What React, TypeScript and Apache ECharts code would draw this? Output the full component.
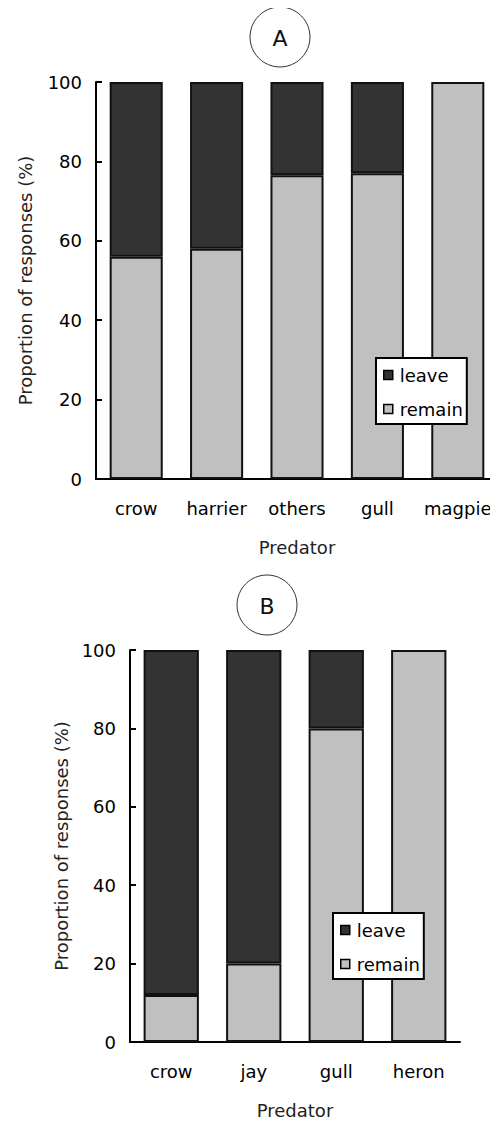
import React, { useEffect, useRef } from "react";
import * as echarts from "echarts";

const catsA = ["crow", "harrier", "others", "gull", "magpie"];
const remainA = [56, 58, 76.5, 77, 100];
const leaveA = [44, 42, 23.5, 23, 0];

const catsB = ["crow", "jay", "gull", "heron"];
const remainB = [12, 20, 80, 100];
const leaveB = [88, 80, 20, 0];

const yTicks = [0, 20, 40, 60, 80, 100];
const seriesNames = ["leave", "remain"];

const FONT = "'DejaVu Sans', Verdana, sans-serif";
const DARK = "#333333";
const LIGHT = "#c0c0c0";

const nz = (arr: number[]) => arr.map((v) => (v === 0 ? "-" : v));

export default function App() {
  const ref = useRef<HTMLDivElement>(null);
  useEffect(() => {
    const chart = echarts.init(ref.current!, null, { renderer: "svg" });
    const yAxis = (gridIndex: number, gap: number) => ({
      type: "value",
      gridIndex,
      min: yTicks[0],
      max: yTicks[yTicks.length - 1],
      interval: 20,
      name: "Proportion of responses (%)",
      nameLocation: "middle",
      nameGap: gap,
      nameTextStyle: { fontSize: 18, color: "#222", fontFamily: FONT },
      axisLine: { show: true, lineStyle: { color: "#000", width: 2 } },
      axisTick: { show: true, inside: true, length: 6, lineStyle: { color: "#000", width: 2 } },
      axisLabel: { fontSize: 18, color: "#000", fontFamily: FONT, margin: 14 },
      splitLine: { show: false },
    });
    const xAxis = (gridIndex: number, data: string[]) => ({
      type: "category",
      gridIndex,
      data,
      name: "Predator",
      nameLocation: "middle",
      nameGap: 59,
      nameTextStyle: { fontSize: 18, color: "#222", fontFamily: FONT },
      axisLine: { show: true, onZero: false, lineStyle: { color: "#000", width: 2 } },
      axisTick: { show: false },
      axisLabel: { fontSize: 18, color: "#000", fontFamily: FONT, margin: 20, interval: 0 },
    });
    const barStyle = (c: string) => ({ color: c, borderColor: "#111", borderWidth: 2 });
    const legend = (left: number, top: number) => ({
      orient: "vertical",
      left,
      top,
      data: seriesNames,
      backgroundColor: "#fff",
      borderColor: "#000",
      borderWidth: 2,
      borderRadius: 0,
      padding: [8, 4, 6, 7],
      itemGap: 16,
      itemWidth: 9,
      itemHeight: 9,
      icon: "rect",
      itemStyle: { borderColor: "#000", borderWidth: 1.5 },
      textStyle: { fontSize: 18, color: "#000", fontFamily: FONT, padding: [0, 0, 0, 2] },
      selectedMode: false,
    });
    chart.setOption({
      animation: false,
      grid: [
        { left: 85, top: 74, width: 410, height: 397 },
        { left: 122, top: 642, width: 330, height: 392 },
      ],
      xAxis: [xAxis(0, catsA), xAxis(1, catsB)],
      yAxis: [yAxis(0, 62), yAxis(1, 59)],
      legend: [legend(368, 350), legend(325, 905)],
      series: [
        { name: "remain", type: "bar", stack: "a", xAxisIndex: 0, yAxisIndex: 0, data: nz(remainA), barWidth: "66%", itemStyle: barStyle(LIGHT) },
        { name: "leave", type: "bar", stack: "a", xAxisIndex: 0, yAxisIndex: 0, data: nz(leaveA), barWidth: "66%", itemStyle: barStyle(DARK) },
        { name: "remain", type: "bar", stack: "b", xAxisIndex: 1, yAxisIndex: 1, data: nz(remainB), barWidth: "67%", itemStyle: barStyle(LIGHT) },
        { name: "leave", type: "bar", stack: "b", xAxisIndex: 1, yAxisIndex: 1, data: nz(leaveB), barWidth: "67%", itemStyle: barStyle(DARK) },
      ],
      graphic: [
        { type: "circle", shape: { cx: 272, cy: 29, r: 30 }, style: { fill: "none", stroke: "#333", lineWidth: 1 } },
        { type: "text", x: 272, y: 30, style: { text: "A", fontSize: 22, fontFamily: FONT, fill: "#111", align: "center", verticalAlign: "middle" } },
        { type: "circle", shape: { cx: 259, cy: 597, r: 30 }, style: { fill: "none", stroke: "#333", lineWidth: 1 } },
        { type: "text", x: 259, y: 598, style: { text: "B", fontSize: 22, fontFamily: FONT, fill: "#111", align: "center", verticalAlign: "middle" } },
      ],
    });
    return () => chart.dispose();
  }, []);
  return <div ref={ref} style={{ width: 490, height: 1116 }} />;
}
